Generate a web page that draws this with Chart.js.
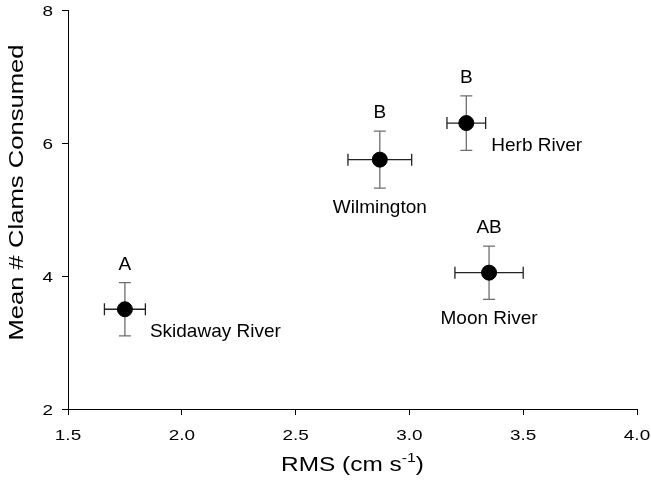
<!DOCTYPE html>
<html>
<head>
<meta charset="utf-8">
<script src="https://cdn.jsdelivr.net/npm/chart.js@4"></script>
<style>
  html, body { margin: 0; padding: 0; background: #fff; }
  #wrap { width: 651px; height: 485px; }
</style>
</head>
<body>
<div id="wrap"><canvas id="chart" width="651" height="485"></canvas></div>
<script>
// data
const sites = ["Skidaway River", "Wilmington", "Herb River", "Moon River"];
const rms = [1.75, 2.87, 3.25, 3.35];
const rmsErr = [0.09, 0.14, 0.085, 0.15];
const clams = [3.5, 5.75, 6.3, 4.05];
const clamsErr = [0.4, 0.43, 0.41, 0.4];
const groups = ["A", "B", "B", "AB"];
// where each site name sits relative to its point
const nameSide = ["right", "below", "right", "below"];

const xTicks = [1.5, 2.0, 2.5, 3.0, 3.5, 4.0];
const yTicks = [2, 4, 6, 8];
const xTitle = ["RMS (cm s", "-1", ")"];
const yTitle = "Mean # Clams Consumed";

const FONT = "'Liberation Sans', Arial, sans-serif";
const WIDE = 1.22; // the original lettering runs a bit wider than Arial

function wideText(ctx, text, x, y, align) {
  const w = ctx.measureText(text).width * WIDE;
  let left = x;
  if (align === "center") left = x - w / 2;
  else if (align === "right") left = x - w;
  ctx.save();
  ctx.translate(left, y);
  ctx.scale(WIDE, 1);
  ctx.textAlign = "left";
  ctx.fillText(text, 0, 0);
  ctx.restore();
  return w;
}

// error bars, letters, site names, tick labels and axis titles
const extras = {
  id: "extras",
  beforeDatasetsDraw(chart) {
    const ctx = chart.ctx;
    const xs = chart.scales.x, ys = chart.scales.y;
    ctx.save();
    ctx.lineWidth = 1.3;
    for (let i = 0; i < sites.length; i++) {
      const cx = xs.getPixelForValue(rms[i]);
      const cy = ys.getPixelForValue(clams[i]);
      const x0 = xs.getPixelForValue(rms[i] - rmsErr[i]);
      const x1 = xs.getPixelForValue(rms[i] + rmsErr[i]);
      const y0 = ys.getPixelForValue(clams[i] + clamsErr[i]);
      const y1 = ys.getPixelForValue(clams[i] - clamsErr[i]);
      ctx.strokeStyle = "#6e6e6e";
      ctx.beginPath();
      ctx.moveTo(cx, y0); ctx.lineTo(cx, y1);
      ctx.moveTo(cx - 6, y0); ctx.lineTo(cx + 6, y0);
      ctx.moveTo(cx - 6, y1); ctx.lineTo(cx + 6, y1);
      ctx.stroke();
      ctx.strokeStyle = "#222";
      ctx.beginPath();
      ctx.moveTo(x0, cy); ctx.lineTo(x1, cy);
      ctx.moveTo(x0, cy - 6); ctx.lineTo(x0, cy + 6);
      ctx.moveTo(x1, cy - 6); ctx.lineTo(x1, cy + 6);
      ctx.stroke();
    }
    ctx.restore();
  },
  afterDatasetsDraw(chart) {
    const ctx = chart.ctx;
    const xs = chart.scales.x, ys = chart.scales.y;
    const ca = chart.chartArea;
    ctx.save();
    ctx.fillStyle = "#000";
    ctx.textBaseline = "alphabetic";

    // letters and site names
    ctx.font = "19px " + FONT;
    for (let i = 0; i < sites.length; i++) {
      const cx = xs.getPixelForValue(rms[i]);
      const cy = ys.getPixelForValue(clams[i]);
      const yTop = ys.getPixelForValue(clams[i] + clamsErr[i]);
      const yBot = ys.getPixelForValue(clams[i] - clamsErr[i]);
      ctx.textAlign = "center";
      ctx.fillText(groups[i], cx, yTop - 13);
      if (nameSide[i] === "right") {
        ctx.textAlign = "left";
        ctx.fillText(sites[i], cx + 25, cy + 28);
      } else {
        ctx.fillText(sites[i], cx, yBot + 25);
      }
    }

    // tick labels
    ctx.font = "15.5px " + FONT;
    xs.ticks.forEach(t => {
      wideText(ctx, t.value.toFixed(1), xs.getPixelForValue(t.value), ca.bottom + 31, "center");
    });
    ys.ticks.forEach(t => {
      wideText(ctx, String(t.value), ca.left - 15, ys.getPixelForValue(t.value) + 5.5, "right");
    });

    // x title with superscript
    const f1 = "20px " + FONT, f2 = "13px " + FONT;
    ctx.font = f1;
    const wa = ctx.measureText(xTitle[0]).width * WIDE;
    const wc = ctx.measureText(xTitle[2]).width * WIDE;
    ctx.font = f2;
    const wb = ctx.measureText(xTitle[1]).width * WIDE;
    let x = (ca.left + ca.right) / 2 - (wa + wb + wc) / 2;
    const base = 471;
    ctx.font = f1; wideText(ctx, xTitle[0], x, base, "left"); x += wa;
    ctx.font = f2; wideText(ctx, xTitle[1], x, base - 9, "left"); x += wb;
    ctx.font = f1; wideText(ctx, xTitle[2], x, base, "left");

    // y title, rotated
    ctx.font = "21px " + FONT;
    ctx.translate(23, (ca.top + ca.bottom) / 2 - 17);
    ctx.rotate(-Math.PI / 2);
    wideText(ctx, yTitle, 0, 0, "center");
    ctx.restore();
  }
};

new Chart(document.getElementById("chart"), {
  type: "scatter",
  data: {
    datasets: [{
      data: rms.map((v, i) => ({ x: v, y: clams[i] })),
      backgroundColor: "#000",
      borderColor: "#000",
      pointRadius: 7.5,
      pointHoverRadius: 7.5
    }]
  },
  options: {
    responsive: false,
    animation: false,
    layout: { padding: { top: 10, right: 14, left: 0, bottom: 0 } },
    plugins: { legend: { display: false }, tooltip: { enabled: false } },
    scales: {
      x: {
        type: "linear",
        min: 1.5, max: 4.0,
        afterBuildTicks: s => { s.ticks = xTicks.map(v => ({ value: v })); },
        afterFit: s => { s.height = 76; },
        ticks: { display: false },
        grid: { drawOnChartArea: false, drawTicks: true, tickLength: 6, color: "#000" },
        border: { color: "#000", width: 1 }
      },
      y: {
        type: "linear",
        min: 2, max: 8,
        afterBuildTicks: s => { s.ticks = yTicks.map(v => ({ value: v })); },
        afterFit: s => { s.width = 68; },
        ticks: { display: false },
        grid: { drawOnChartArea: false, drawTicks: true, tickLength: 6, color: "#000" },
        border: { color: "#000", width: 1 }
      }
    }
  },
  plugins: [extras]
});
</script>
</body>
</html>
